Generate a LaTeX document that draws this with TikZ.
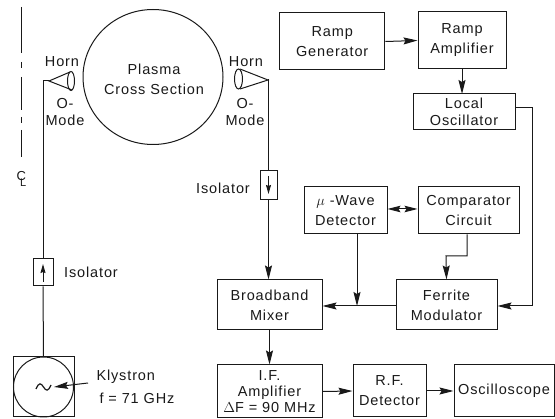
\documentclass[tikz,border=0pt]{standalone}
\usepackage{fontspec}
\setmainfont[LetterSpace=6]{Liberation Sans}
\usetikzlibrary{arrows.meta,shapes.geometric}
\tikzset{
  every path/.style={line width=1pt,black!90},
  every node/.style={text=black!90},
  head/.style={-{Stealth[length=14pt,width=7pt,inset=2pt]}},
  rbox/.style={draw,line width=1pt,align=center,inner sep=0pt,font=\fontsize{14.5}{20}\selectfont},
  lab/.style={align=center,inner sep=0pt,font=\fontsize{14.5}{19}\selectfont},
}
\begin{document}
\begin{tikzpicture}[x=1pt,y=-1pt]
\useasboundingbox (0,0) rectangle (555,419);
% boxes
\node[rbox,minimum width=105.5pt,minimum height=57pt] (rg) at (332.2,41.5) {Ramp\\Generator};
\node[rbox,minimum width=88pt,minimum height=57pt] (ra) at (462,40.5) {Ramp\\Amplifier};
\node[rbox,minimum width=102pt,minimum height=36pt,font=\fontsize{14.5}{17}\selectfont] (lo) at (464,112) {Local\\Oscillator};
\node[rbox,minimum width=83pt,minimum height=47pt] (mu) at (345.5,210.5) {$\mu$ -Wave\\Detector};
\node[rbox,minimum width=101pt,minimum height=47pt] (cc) at (468.5,210.5) {Comparator\\Circuit};
\node[rbox,minimum width=105pt,minimum height=50pt] (bm) at (269.5,305) {Broadband\\Mixer};
\node[rbox,minimum width=101pt,minimum height=50pt] (fm) at (446.5,305) {Ferrite\\Modulator};
\node[rbox,minimum width=105pt,minimum height=53pt,font=\fontsize{14.5}{16}\selectfont] (ifa) at (269.5,391.5) {I.F.\\Amplifier\\$\Delta$F = 90 MHz};
\node[rbox,minimum width=73pt,minimum height=52pt] (rf) at (389.5,391) {R.F.\\Detector};
\node[rbox,minimum width=100pt,minimum height=52pt] (os) at (504,391) {Oscilloscope};
% plasma
\node[draw,ellipse,line width=1pt,minimum width=140pt,minimum height=135pt,inner sep=0pt] (pl) at (153,77) {};
\node[lab,font=\fontsize{14.5}{20}\selectfont] (pt) at (154,79) {Plasma\\Cross Section};
% isolators
\node[draw,minimum width=20pt,minimum height=27pt,inner sep=0pt] (iso1) at (43,272.5) {};
\node[draw,minimum width=17pt,minimum height=29pt,inner sep=0pt] (iso2) at (268.5,185.5) {};
% klystron
\node[draw,minimum width=61pt,minimum height=60pt,inner sep=0pt] (kb) at (43.5,387) {};
\node[draw,circle,minimum size=60pt,inner sep=0pt] (kc) at (43.5,387) {};
\coordinate (tip) at (54,387);
\coordinate (kl) at (88,383);
\draw[line width=1.2pt] (36,389) .. controls (39,382) and (41,383) .. (43.5,387) .. controls (46,391) and (48,392) .. (51,385);
% horns
\coordinate (hl) at (49,81);
\coordinate (hr) at (268,80);
\coordinate (hlc) at (43,81);
\coordinate (hrc) at (268.5,80);
\coordinate (hlt) at (70,72);
\coordinate (hlb) at (72,90);
\coordinate (hrt) at (240,69);
\coordinate (hrb) at (240,89);
\draw (hlt) -- (hl) -- (hlb);
\draw (hrt) -- (hr) -- (hrb);
\draw (71,81) ellipse [x radius=3.5pt,y radius=9.5pt];
\draw (238.5,79) ellipse [x radius=4pt,y radius=10pt];
% connectors
\draw (hl) -- (hlc) -- (iso1.north);
\draw (iso1.south) -- (kb.north);
\draw (hr) -- (hrc) -- (iso2.north);
\draw[head] (iso2.south) -- (iso2.south |- bm.north);
\coordinate (u1) at (43,282);\coordinate (u2) at (43,264);
\draw[-{Stealth[length=9pt,width=5pt,inset=1pt]}] (u1) -- (u2);
\coordinate (d1) at (268.5,176);\coordinate (d2) at (268.5,194);
\draw[-{Stealth[length=9pt,width=5pt,inset=1pt]}] (d1) -- (d2);
\draw[head] (kl) -- (tip);
\draw[head] (rg.east) -- (ra.west);
\draw[head] (ra.south -| 462,0) -- (462,94);
\coordinate (lor) at (532,108);
\coordinate (ferr) at (532,306);
\draw[head] (lo.east |- lor) -- (lor) -- (ferr) -- (fm.east |- ferr);
\draw[{Stealth[length=13pt,width=6.5pt,inset=2pt]}-{Stealth[length=13pt,width=6.5pt,inset=2pt]}] (mu.east |- 0,209) -- (cc.west |- 0,209);
\coordinate (cm1) at (467,256);
\coordinate (cm2) at (446,256);
\draw[head] (cm1 |- cc.south) -- (cm1) -- (cm2) -- (fm.north);
\draw[head] (fm.west |- ferr) -- (bm.east |- ferr);
\draw[head] (357,234) -- (357,306);
\draw[head] (bm.south) -- (ifa.north);
\draw[head] (ifa.east) -- (rf.west);
\draw[head] (rf.east) -- (os.west);
% labels
\node[lab] (t1) at (62,62) {Horn};
\node[lab,font=\fontsize{14.5}{17}\selectfont] (t2) at (65,112) {O-\\Mode};
\node[lab] (t3) at (246,62) {Horn};
\node[lab,font=\fontsize{14.5}{17}\selectfont] (t4) at (245,112) {O-\\Mode};
\node[lab] (t5) at (223,188) {Isolator};
\node[lab] (t6) at (91,272) {Isolator};
\node[lab,anchor=west] (t7) at (96,377) {Klystron};
\node[lab,anchor=west] (t8) at (99,398) {f = 71 GHz};
% centre line
\draw (21,7) -- (21,53) (21,62) -- (21,68) (21,77) -- (21,110) (21,117) -- (21,123) (21,130) -- (21,157);
\node[lab,font=\fontsize{13}{14}\selectfont] (c1) at (21.5,179) {C\kern-6pt\raisebox{-6pt}{\fontsize{11}{12}\selectfont L}};
\end{tikzpicture}
\end{document}
